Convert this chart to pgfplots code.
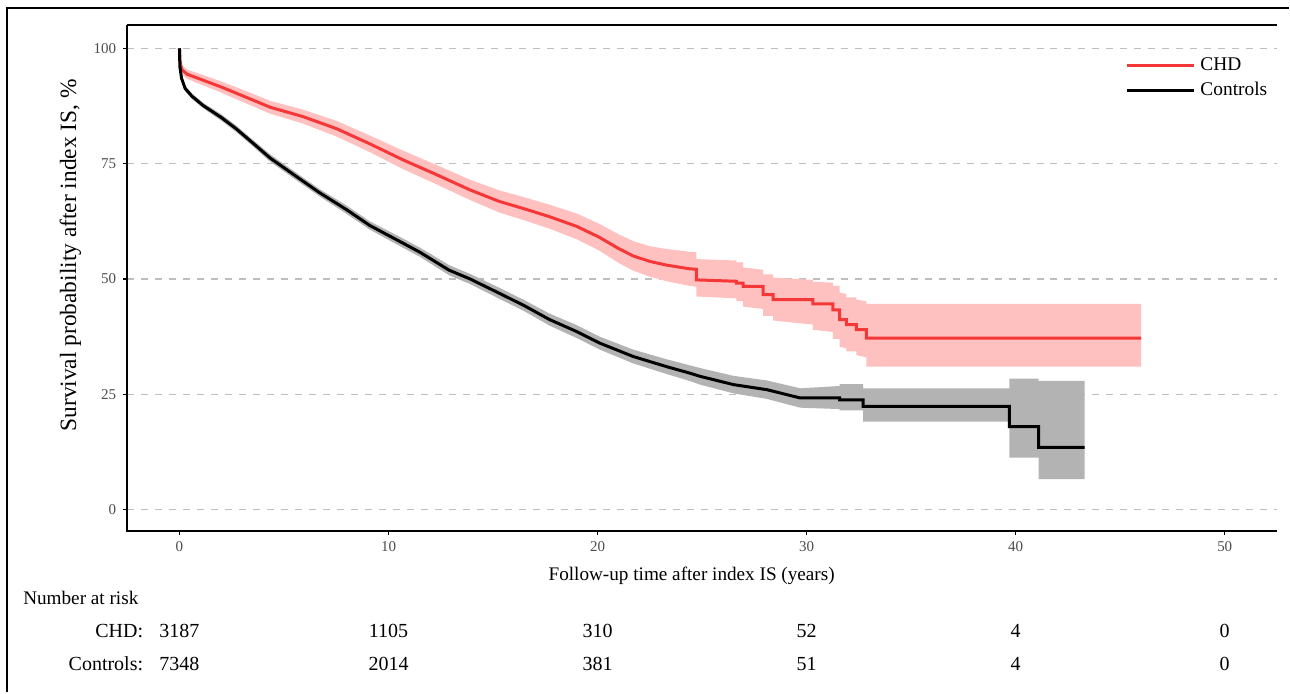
\documentclass[border=0pt]{standalone}
\usepackage{fontspec}
\setmainfont{Liberation Serif}
\usepackage{pgfplots}
\pgfplotsset{compat=1.18}
\usepackage{pgfplotstable}
\definecolor{chdred}{RGB}{245,55,55}
\definecolor{chdband}{RGB}{255,192,192}
\definecolor{ctlband}{RGB}{179,179,179}
\definecolor{gridgray}{RGB}{190,190,190}
\definecolor{tickgray}{RGB}{77,77,77}

% CHD survival curve
\pgfplotstableread{
t s
0 100
0.03 97
0.1 95.5
0.35 94.4
1 93.3
2 91.6
2.7 90.3
4.35 87.2
5.9 85.2
7.5 82.6
9.1 79.3
10.7 75.8
12.3 72.6
13.9 69.3
15.3 66.8
16.5 65.2
17.7 63.5
19.0 61.4
20.1 59.0
21.0 56.6
21.7 55.0
22.5 53.8
23.3 53.0
24.4 52.2
24.73 52.1
24.73 49.8
26.64 49.5
26.64 49.1
26.96 49.1
26.96 48.4
27.92 48.4
27.92 46.6
28.4 46.6
28.4 45.5
30.3 45.5
30.3 44.6
31.26 44.6
31.26 43.3
31.58 43.3
31.58 41.2
31.9 41.2
31.9 40.1
32.38 40.1
32.38 39.0
32.86 39.0
32.86 37.2
46.0 37.2
}\chd

% CHD 95% band: upper limit forward, lower limit backward
\pgfplotstableread{
t y
0 100
0.03 98
0.1 96.5
0.35 95.4
1 94.4
2 92.8
2.7 91.6
4.35 88.6
5.9 86.7
7.5 84.3
9.1 81.1
10.7 77.8
12.3 74.7
13.9 71.5
15.3 69.2
16.5 67.7
17.7 66.1
19.0 64.2
20.1 61.9
21.0 59.7
21.7 58.2
22.5 57.1
23.3 56.5
24.4 55.9
24.73 55.8
24.73 54.3
26.64 54.0
26.64 53.6
26.96 53.6
26.96 52.5
27.92 52.0
27.92 51.0
28.4 51.0
28.4 50.3
30.3 49.8
30.3 49.4
31.26 49.2
31.26 48.5
31.58 48.5
31.58 47.0
31.9 46.8
31.9 46.0
32.38 46.0
32.38 45.5
32.86 45.2
32.86 44.6
46.0 44.6
46.0 31.0
32.86 31.0
32.86 33.0
32.38 33.5
32.38 34.3
31.9 34.3
31.9 35.0
31.58 35.3
31.58 37.0
31.26 37.0
31.26 38.5
30.3 39.0
30.3 40.1
28.4 41.0
28.4 42.0
27.92 42.0
27.92 43.5
26.96 44.0
26.96 45.2
26.64 45.2
26.64 45.8
24.73 46.2
24.73 48.3
24.4 48.5
23.3 49.5
22.5 50.5
21.7 51.8
21.0 53.5
20.1 56.1
19.0 58.6
17.7 60.9
16.5 62.7
15.3 64.4
13.9 67.1
12.3 70.5
10.7 73.8
9.1 77.5
7.5 80.9
5.9 83.7
4.35 85.8
2.7 89.0
2 90.4
1 92.2
0.35 93.4
0.1 94.5
0.03 96
0 100
}\chdband

% Controls survival curve
\pgfplotstableread{
t s
0 100
0.02 96
0.1 93.5
0.27 91.3
0.6 89.6
1.13 87.6
2 85
2.7 82.6
3.5 79.5
4.34 76.2
5.5 72.5
6.7 68.7
8 65
9.1 61.6
10.55 58.1
11.5 55.8
12.9 51.9
13.9 50.0
15.3 46.9
16.5 44.2
17.7 41.2
19 38.6
20.1 36.1
21.7 33.2
23.3 31.0
24.4 29.6
24.9 28.9
26.5 27.1
28.1 26.0
29.7 24.2
31.58 24.2
31.58 23.8
32.7 23.8
32.7 22.4
39.7 22.4
39.7 18.0
41.1 18.0
41.1 13.5
43.3 13.5
}\ctl

% Controls 95% band
\pgfplotstableread{
t y
0 100
0.02 96.5
0.1 94
0.27 91.9
0.6 90.2
1.13 88.2
2 85.7
2.7 83.3
3.5 80.2
4.34 77.0
5.5 73.3
6.7 69.5
8 65.9
9.1 62.5
10.55 59.1
11.5 56.8
12.9 53.0
13.9 51.1
15.3 48.1
16.5 45.4
17.7 42.5
19 40.0
20.1 37.5
21.7 34.7
23.3 32.6
24.4 31.3
24.9 30.7
26.5 29.0
28.1 28.0
29.7 26.3
31.58 26.8
31.58 27.2
32.7 27.2
32.7 26.3
39.7 26.3
39.7 28.4
41.1 28.4
41.1 27.9
43.3 27.9
43.3 6.6
41.1 6.6
41.1 11.3
39.7 11.3
39.7 19.1
32.7 19.1
32.7 21.5
31.58 21.5
31.58 21.8
29.7 22.1
28.1 24.0
26.5 25.2
24.9 27.1
24.4 27.9
23.3 29.4
21.7 31.7
20.1 34.7
19 37.2
17.7 39.9
16.5 43.0
15.3 45.7
13.9 48.9
12.9 50.8
11.5 54.8
10.55 57.1
9.1 60.7
8 64.1
6.7 67.9
5.5 71.7
4.34 75.4
3.5 78.8
2.7 81.9
2 84.3
1.13 87
0.6 89
0.27 90.7
0.1 93
0.02 95.5
0 100
}\ctlband

\begin{document}
\begin{tikzpicture}
\draw[line width=1pt] (3.5pt,0pt) -- (3.5pt,342.5pt) -- (645pt,342.5pt);
\begin{axis}[
  at={(63.65pt,80.85pt)}, anchor=south west,
  width=575.35pt, height=253.15pt, scale only axis,
  xmin=-2.5, xmax=52.5, ymin=-4.6, ymax=105.05,
  axis line style={draw=none},
  xtick={0,10,20,30,40,50}, ytick={0,25,50,75,100},
  tick pos=left, tick align=outside, major tick length=2pt,
  tick style={black, line width=0.6pt},
  ymajorgrids,
  major grid style={gridgray, line width=0.75pt, dash pattern=on 3.5pt off 3.5pt},
  ticklabel style={font=\fontsize{7.5}{8.5}\selectfont, text=tickgray},
  /pgf/number format/assume math mode=true,
  clip=false,
  legend style={draw=none, fill=none, at={(0.8679,0.9437)}, anchor=north west,
    font=\fontsize{9.7}{11}\selectfont, inner sep=0pt, row sep=0.5pt, column sep=1.5pt,
    nodes={inner sep=1pt, text height=0.75em, text depth=0.25em},
    cells={anchor=west}},
  legend image code/.code={\draw[#1] (0pt,0pt) -- (33.5pt,0pt);},
]
\addplot[fill=ctlband, draw=none, forget plot] table[x=t,y=y] {\ctlband};
\addplot[fill=chdband, draw=none, forget plot] table[x=t,y=y] {\chdband};
\addplot[chdred, line width=1.5pt] table[x=t,y=s] {\chd};
\addlegendentry{CHD}
\addplot[black, line width=1.5pt] table[x=t,y=s] {\ctl};
\addlegendentry{Controls}
\draw[line width=1pt] (rel axis cs:0,1) -- (rel axis cs:0,0) -- (rel axis cs:1,0);
\draw[line width=0.8pt] (rel axis cs:0,1) -- (rel axis cs:1,1);
\node[anchor=base, font=\fontsize{9.6}{11}\selectfont] at (axis cs:24.5,-15.3) {Follow-up time after index IS (years)};
\node[rotate=90, anchor=center, font=\fontsize{11.7}{13}\selectfont] at (axis cs:-5.22,55.1) {Survival probability after index IS, \%};
\node[anchor=base west, inner sep=0pt, font=\fontsize{9.6}{12}\selectfont] at (axis cs:-7.49,-20.5) {Number at risk};
\node[anchor=base east, inner sep=0pt, font=\fontsize{10}{12}\selectfont] at (axis cs:-1.72,-27.8) {CHD:};
\node[anchor=base east, inner sep=0pt, font=\fontsize{10}{12}\selectfont] at (axis cs:-1.72,-34.8) {Controls:};
\node[anchor=base, inner sep=0pt, font=\fontsize{10}{12}\selectfont] at (axis cs:0,-27.8) {3187};
\node[anchor=base, inner sep=0pt, font=\fontsize{10}{12}\selectfont] at (axis cs:10,-27.8) {1105};
\node[anchor=base, inner sep=0pt, font=\fontsize{10}{12}\selectfont] at (axis cs:20,-27.8) {310};
\node[anchor=base, inner sep=0pt, font=\fontsize{10}{12}\selectfont] at (axis cs:30,-27.8) {52};
\node[anchor=base, inner sep=0pt, font=\fontsize{10}{12}\selectfont] at (axis cs:40,-27.8) {4};
\node[anchor=base, inner sep=0pt, font=\fontsize{10}{12}\selectfont] at (axis cs:50,-27.8) {0};
\node[anchor=base, inner sep=0pt, font=\fontsize{10}{12}\selectfont] at (axis cs:0,-34.8) {7348};
\node[anchor=base, inner sep=0pt, font=\fontsize{10}{12}\selectfont] at (axis cs:10,-34.8) {2014};
\node[anchor=base, inner sep=0pt, font=\fontsize{10}{12}\selectfont] at (axis cs:20,-34.8) {381};
\node[anchor=base, inner sep=0pt, font=\fontsize{10}{12}\selectfont] at (axis cs:30,-34.8) {51};
\node[anchor=base, inner sep=0pt, font=\fontsize{10}{12}\selectfont] at (axis cs:40,-34.8) {4};
\node[anchor=base, inner sep=0pt, font=\fontsize{10}{12}\selectfont] at (axis cs:50,-34.8) {0};
\end{axis}
\path (0pt,0pt) rectangle (645pt,346.5pt);
\end{tikzpicture}
\end{document}
